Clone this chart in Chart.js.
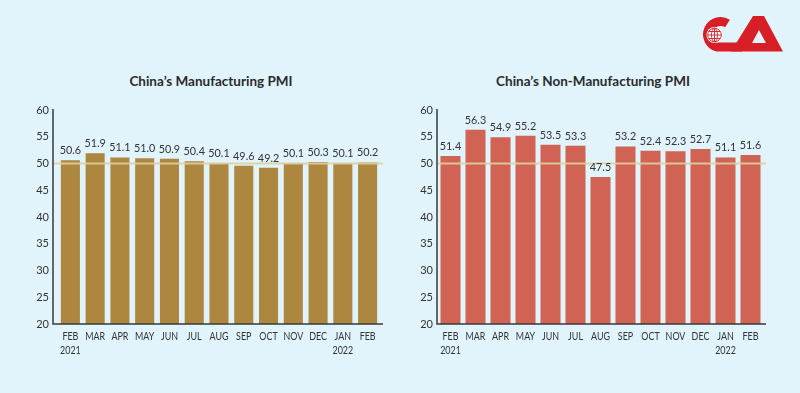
<!DOCTYPE html>
<html>
<head>
<meta charset="utf-8">
<script src="https://cdn.jsdelivr.net/npm/chart.js@4.4.1/dist/chart.umd.min.js"></script>
<style>
  html, body { margin:0; padding:0; }
  body { width:800px; height:393px; background:#e1f3fb; position:relative; overflow:hidden; font-family: Lato, "Open Sans", sans-serif; }
  .title { position:absolute; top:73px; line-height:16px; font-weight:700; font-size:13.5px; color:#2b2b2b; text-align:center; width:300px; }
  canvas { position:absolute; top:0; }
  #logo { position:absolute; left:695px; top:10px; }
</style>
</head>
<body>
<div class="title" style="left:61px;">China’s Manufacturing PMI</div>
<div class="title" style="left:443px;">China’s Non-Manufacturing PMI</div>
<canvas id="c1" width="400" height="393" style="left:0px"></canvas>
<canvas id="c2" width="400" height="393" style="left:400px"></canvas>
<svg id="logo" width="95" height="48" viewBox="695 10 95 48">
  <path d="M727.5,23.5 A13,13 0 1 0 717,47 L742,47" fill="none" stroke="#d81e27" stroke-width="9"/>
  <path fill-rule="evenodd" fill="#d81e27" d="M731,51.5 L753,16 L764,16 L783,51.5 Z M752,43 L759,30 L766,43 Z"/>
  <circle cx="714.5" cy="35" r="8" fill="#fff"/>
  <g stroke="#d81e27" stroke-width="0.9" fill="none">
    <circle cx="714.5" cy="35" r="6.8"/>
    <ellipse cx="714.5" cy="35" rx="3" ry="6.8"/>
    <line x1="714.5" y1="28.2" x2="714.5" y2="41.8"/>
    <line x1="707.7" y1="35" x2="721.3" y2="35"/>
    <line x1="708.6" y1="31.5" x2="720.4" y2="31.5"/>
    <line x1="708.6" y1="38.5" x2="720.4" y2="38.5"/>
  </g>
</svg>
<script>
const categories = [['FEB','2021'],'MAR','APR','MAY','JUN','JUL','AUG','SEP','OCT','NOV','DEC',['JAN','2022'],'FEB'];
const manufacturing = [50.6, 51.9, 51.1, 51.0, 50.9, 50.4, 50.1, 49.6, 49.2, 50.1, 50.3, 50.1, 50.2];
const nonManufacturing = [51.4, 56.3, 54.9, 55.2, 53.5, 53.3, 47.5, 53.2, 52.4, 52.3, 52.7, 51.1, 51.6];
const yMin = 20, yMax = 60, yStep = 5, refLine = 50;

const FONT = 'Lato, "Open Sans", sans-serif';

function narrowText(ctx, text, x, y, sx) {
  ctx.save();
  ctx.translate(x, y);
  ctx.scale(sx, 1);
  ctx.fillText(text, 0, 0);
  ctx.restore();
}

const overlayPlugin = {
  id: 'overlay',
  afterDatasetsDraw(chart, args, opts) {
    const ctx = chart.ctx;
    const ys = chart.scales.y;
    const xs = chart.scales.x;
    const area = chart.chartArea;
    const y50 = ys.getPixelForValue(refLine);
    ctx.save();
    ctx.strokeStyle = 'rgba(222,208,160,0.9)';
    ctx.lineWidth = 2;
    ctx.beginPath();
    ctx.moveTo(area.left + opts.axisShift, y50);
    ctx.lineTo(area.right + opts.axisExtend, y50);
    ctx.stroke();
    // axes
    ctx.strokeStyle = '#3a3a3a';
    ctx.lineWidth = 1.5;
    ctx.beginPath();
    ctx.moveTo(area.left + opts.axisShift, area.top - 1);
    ctx.lineTo(area.left + opts.axisShift, area.bottom);
    ctx.lineTo(area.right + opts.axisExtend, area.bottom);
    ctx.stroke();
    // value labels
    const meta = chart.getDatasetMeta(0);
    const data = chart.data.datasets[0].data;
    ctx.fillStyle = '#333';
    ctx.font = '12px ' + FONT;
    ctx.textAlign = 'center';
    ctx.textBaseline = 'bottom';
    meta.data.forEach((bar, i) => {
      narrowText(ctx, data[i].toFixed(1), bar.x, bar.y - 4, 0.9);
    });
    // category labels
    ctx.font = '10.5px ' + FONT;
    ctx.textBaseline = 'middle';
    chart.data.labels.forEach((lab, i) => {
      const x = xs.getPixelForValue(i);
      const lines = Array.isArray(lab) ? lab : [lab];
      lines.forEach((t, j) => narrowText(ctx, t, x, area.bottom + 12.5 + j * 14, 0.85));
    });
    ctx.restore();
  }
};

function makeChart(id, values, color, barPct, yWidth, padRight, tickPad, axisShift, axisExtend) {
  return new Chart(document.getElementById(id), {
    type: 'bar',
    data: { labels: categories, datasets: [{ data: values, backgroundColor: color, barPercentage: barPct, categoryPercentage: 1.0 }] },
    options: {
      responsive: false,
      animation: false,
      devicePixelRatio: 1,
      layout: { padding: { left: 0, right: padRight, top: 110, bottom: 29 } },
      plugins: { legend: { display: false }, tooltip: { enabled: false }, overlay: { axisShift, axisExtend } },
      scales: {
        x: {
          grid: { display: false, drawTicks: false },
          border: { display: false },
          ticks: { color: 'rgba(0,0,0,0)', font: { family: FONT, size: 10 }, padding: 6, maxRotation: 0, autoSkip: false },
          afterFit(s) { s.height = 40; }
        },
        y: {
          min: yMin, max: yMax,
          grid: { display: false, drawTicks: false },
          border: { display: false },
          ticks: { stepSize: yStep, color: '#333', font: { family: FONT, size: 11 }, padding: tickPad },
          afterFit(s) { s.width = yWidth; }
        }
      }
    },
    plugins: [overlayPlugin]
  });
}

makeChart('c1', manufacturing, '#ad8640', 0.77, 58, 20, 9, -5, 3);
makeChart('c2', nonManufacturing, '#d06353', 0.8, 38, 37, 5, -1, 3);
</script>
</body>
</html>
